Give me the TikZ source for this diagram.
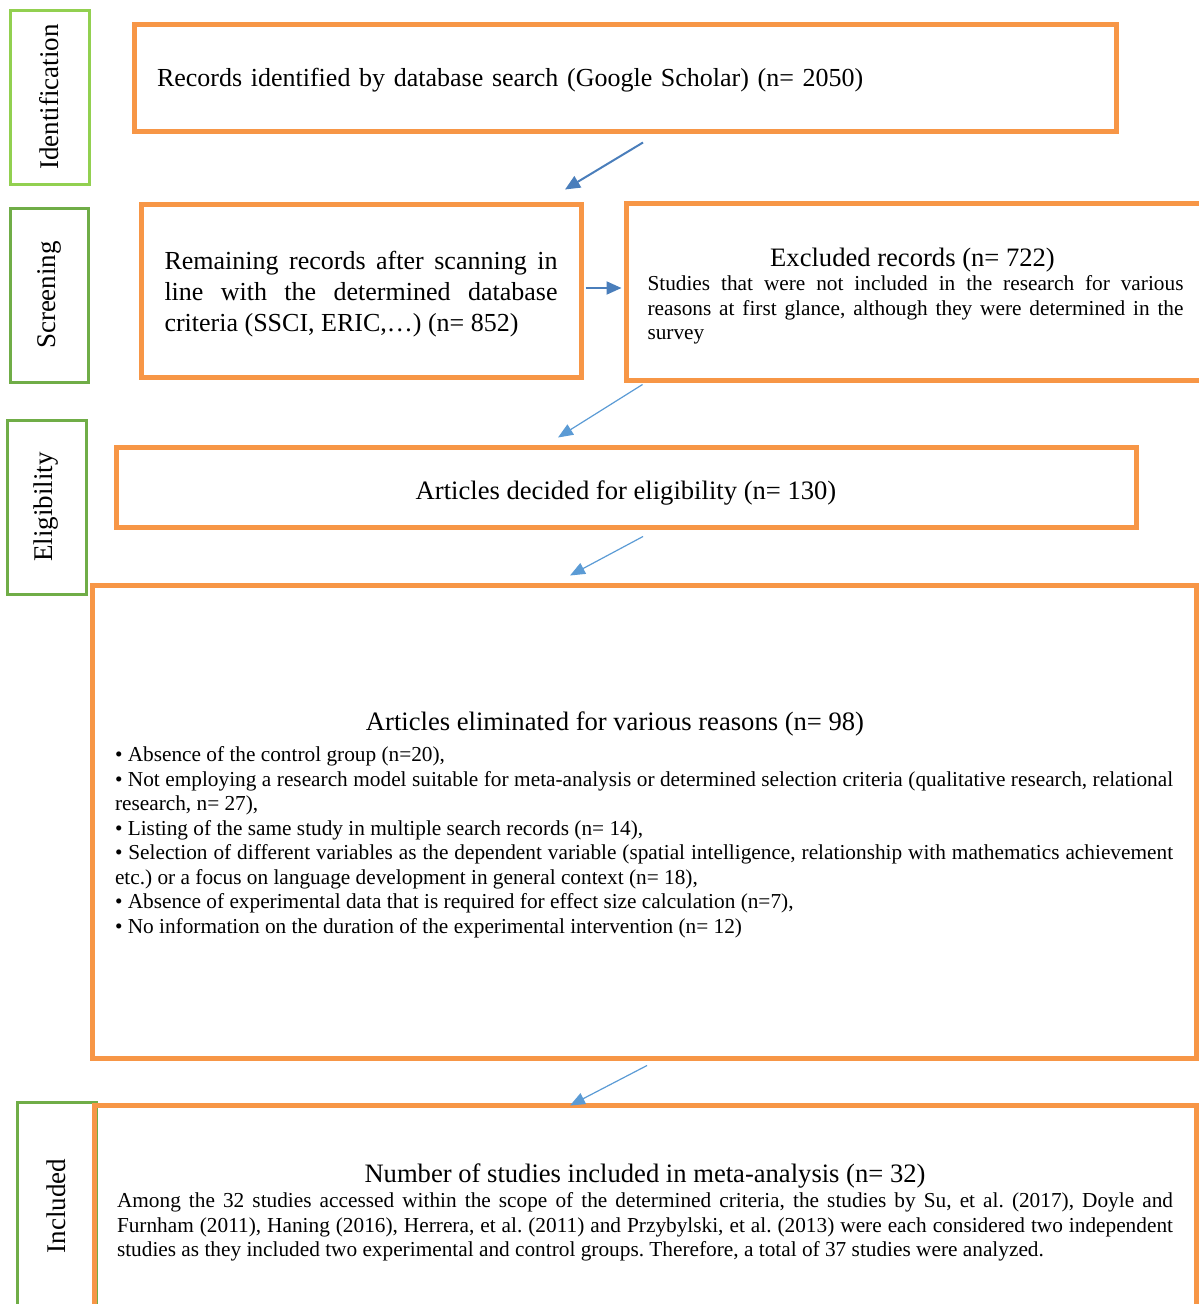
\documentclass[tikz,border=0pt]{standalone}
\usepackage{fontspec}
\setmainfont{Liberation Serif}
\usetikzlibrary{arrows.meta}
\setlength{\parindent}{0pt}
\frenchspacing
\definecolor{ora}{HTML}{F79646}
\definecolor{lgreen}{HTML}{92D050}
\definecolor{dgreen}{HTML}{70AD47}
\definecolor{dblue}{HTML}{4A7EBB}
\definecolor{lblue}{HTML}{5B9BD5}
\newcommand{\titlef}{\fontsize{26.6}{30}\selectfont}
\tikzset{
  obox/.style={draw=ora, line width=5pt, rectangle, inner sep=0pt},
  gbox/.style={draw=dgreen, line width=3pt, rectangle, inner sep=0pt, rotate=90,
    font=\fontsize{27}{30}\selectfont},
  arr/.style={-{Triangle[length=15pt,width=13pt]}, line width=2pt, draw=dblue},
  arrl/.style={-{Triangle[length=15pt,width=12pt]}, line width=1.2pt, draw=lblue},
  bigf/.style={font=\fontsize{26}{31}\selectfont},
  titlefont/.style={font=\titlef},
  smallf/.style={font=\fontsize{21.3}{24.5}\selectfont},
}
\begin{document}
\begin{tikzpicture}[x=1pt,y=-1pt]
\useasboundingbox (0,0) rectangle (1199,1304);
\clip (0,0) rectangle (1199,1304);
% stage labels
\node[gbox, draw=lgreen, minimum width=174pt, minimum height=79pt] (ident) at (49.5,97) {Identification};
\node[gbox, minimum width=174pt, minimum height=78pt] (screen) at (49,295) {Screening};
\node[gbox, minimum width=174pt, minimum height=79pt] (elig) at (46.5,507) {Eligibility};
\node[gbox, minimum width=208pt, minimum height=79pt] (incl) at (56.5,1206) {Included};
% boxes
\node[obox, bigf, minimum width=982pt, minimum height=107pt, text width=936pt, align=left,
      text height=23pt, text depth=5.5pt] (rec) at (625,77.5)
  {Records identified by database search (Google Scholar) (n= 2050)};
\node[obox, bigf, minimum width=440pt, minimum height=173pt, text width=393pt, align=justify,
      text height=25pt] (remain) at (361,290.5)
  {Remaining records after scanning in\linebreak line with the determined database\linebreak criteria (SSCI, ERIC,…) (n= 852)};
\node[obox, smallf, minimum width=579pt, minimum height=177pt, text width=536pt, align=justify,
      text height=27.4pt] (excl) at (915.5,291.5)
  {{\titlef\makebox[\linewidth]{\hspace*{-6pt}Excluded records (n= 722)}\par}
   Studies that were not included in the research for various\linebreak reasons at first glance, although they were determined in the\linebreak survey\par};
\node[obox, titlefont, minimum width=1020pt, minimum height=80pt, text height=30pt, text depth=6pt] (decided) at (626,487)
  {Articles decided for eligibility (n= 130)};
\node[obox, smallf, minimum width=1104pt, minimum height=473pt, text width=1058pt, align=justify,
      text height=25.4pt] (elim) at (644,821.5)
  {{\titlef\makebox[\linewidth]{\hspace*{-58pt}Articles eliminated for various reasons (n= 98)}\par}
   \vspace{7pt}
   • Absence of the control group (n=20),\par
   • Not employing a research model suitable for meta-analysis or determined selection criteria (qualitative research, relational\linebreak research, n= 27),\par
   • Listing of the same study in multiple search records (n= 14),\par
   • Selection of different variables as the dependent variable (spatial intelligence, relationship with mathematics achievement\linebreak etc.) or a focus on language development in general context (n= 18),\par
   • Absence of experimental data that is required for effect size calculation (n=7),\par
   • No information on the duration of the experimental intervention (n= 12)\par};
\node[obox, smallf, minimum width=1102pt, minimum height=215pt, text width=1056pt, align=justify] (num) at (645,1212.5)
  {{\titlef\makebox[\linewidth]{Number of studies included in meta-analysis (n= 32)}\par}
   \vspace{0.5pt}
   Among the 32 studies accessed within the scope of the determined criteria, the studies by Su, et al. (2017), Doyle and\linebreak Furnham (2011), Haning (2016), Herrera, et al. (2011) and Przybylski, et al. (2013) were each considered two independent\linebreak studies as they included two experimental and control groups. Therefore, a total of 37 studies were analyzed.\par};
% connectors
\draw[arr] ([xshift=18pt,yshift=-9pt]rec.south) -- ([xshift=204pt,yshift=12pt]remain.north);
\draw[arr] ([xshift=2pt,yshift=2.5pt]remain.east) -- ([xshift=-2pt,yshift=3.5pt]excl.west);
\draw[arrl] ([xshift=19pt,yshift=-2pt]excl.south west) -- ([xshift=-68pt,yshift=7pt]decided.north);
\draw[arrl] ([xshift=17pt,yshift=-7pt]decided.south) -- ([xshift=-74pt,yshift=7pt]elim.north);
\draw[arrl] ([xshift=3pt,yshift=-5pt]elim.south) -- ([xshift=-75pt,yshift=-3pt]num.north);
\end{tikzpicture}
\end{document}
